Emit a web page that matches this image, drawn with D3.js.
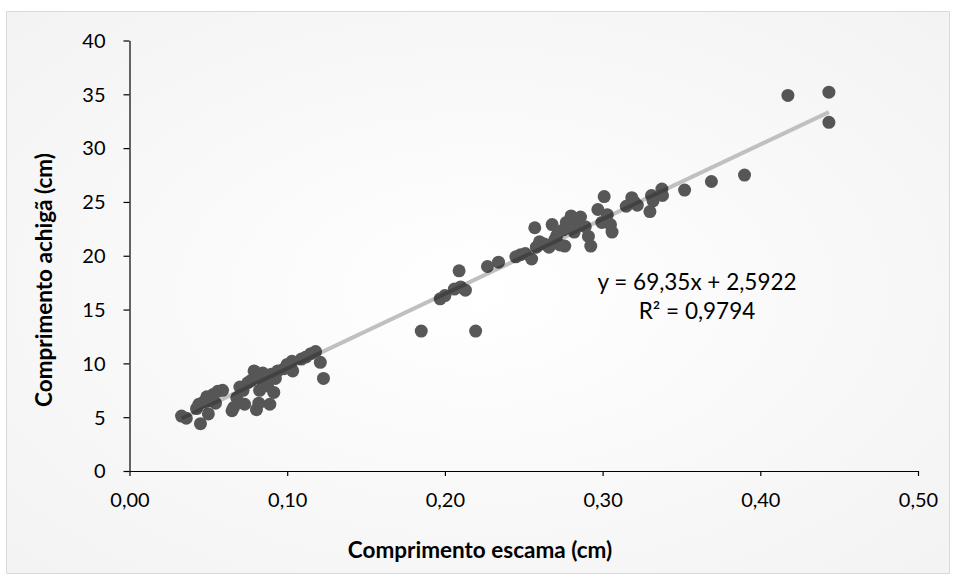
<!DOCTYPE html>
<html>
<head>
<meta charset="utf-8">
<script src="https://cdn.jsdelivr.net/npm/d3@7"></script>
<style>
  html, body { margin: 0; padding: 0; background: #ffffff; }
  svg { display: block; font-family: Lato, "Open Sans", sans-serif; }
</style>
</head>
<body>
<svg id="chart" width="956" height="580"></svg>
<script>
// Scale length (cm) vs. fish length (cm)
const escama = [
  0.033, 0.036, 0.045, 0.0425, 0.044, 0.047, 0.0495, 0.050, 0.051, 0.053,
  0.049, 0.056, 0.059, 0.0545, 0.065, 0.066, 0.068, 0.070, 0.072, 0.073,
  0.075, 0.077, 0.079, 0.080, 0.0805, 0.082, 0.0825, 0.084, 0.0845, 0.086,
  0.0875, 0.089, 0.090, 0.0915, 0.0925, 0.094, 0.098, 0.100, 0.103, 0.1035,
  0.109, 0.112, 0.115, 0.118, 0.121, 0.123,
  0.185, 0.2195, 0.197, 0.200, 0.209, 0.206, 0.210, 0.213, 0.227, 0.234,
  0.245, 0.248, 0.251, 0.255, 0.257, 0.258, 0.260, 0.263, 0.266, 0.268,
  0.2697, 0.271, 0.273, 0.275, 0.276, 0.277, 0.280, 0.282, 0.284, 0.286,
  0.289, 0.291, 0.2925, 0.297, 0.2995, 0.301, 0.303, 0.305, 0.306, 0.315,
  0.3185, 0.320, 0.322, 0.331, 0.332, 0.330, 0.3376, 0.338, 0.352, 0.369,
  0.390, 0.4175, 0.4435, 0.4435
];
const achiga = [
  5.1, 4.9, 4.4, 5.8, 6.2, 6.4, 6.5, 5.3, 6.7, 7.1,
  6.9, 7.4, 7.5, 6.3, 5.6, 5.9, 6.8, 7.8, 7.5, 6.2,
  8.2, 8.4, 9.3, 8.9, 5.7, 6.3, 7.5, 8.4, 9.1, 8.7,
  7.9, 6.2, 9.0, 7.3, 8.6, 9.3, 9.5, 9.9, 10.2, 9.3,
  10.4, 10.6, 10.9, 11.1, 10.1, 8.6,
  13.0, 13.0, 16.0, 16.3, 18.6, 16.9, 17.1, 16.8, 19.0, 19.4,
  19.9, 20.1, 20.2, 19.7, 22.6, 20.8, 21.3, 21.1, 20.8, 22.9,
  21.5, 21.9, 21.0, 22.4, 20.9, 23.1, 23.7, 22.2, 23.0, 23.6,
  22.7, 21.8, 20.9, 24.3, 23.1, 25.5, 23.8, 22.9, 22.2, 24.6,
  25.4, 25.0, 24.7, 25.6, 25.1, 24.1, 26.2, 25.6, 26.1, 26.9,
  27.5, 34.9, 35.2, 32.4
];

// Linear trendline y = a·x + b
const trendCoef = [69.35, 2.5922];
const trendLabels = ["y = 69,35x + 2,5922", "R² = 0,9794"];

const xTicks = [0, 0.1, 0.2, 0.3, 0.4, 0.5];
const xTickLabels = ["0,00", "0,10", "0,20", "0,30", "0,40", "0,50"];
const yTicks = [0, 5, 10, 15, 20, 25, 30, 35, 40];

const xTitle = "Comprimento escama (cm)";
const yTitle = "Comprimento achigã (cm)";

const svg = d3.select("#chart");

// Chart area background: soft radial fill with a thin grey frame
const defs = svg.append("defs");
const grad = defs.append("radialGradient")
  .attr("id", "bg").attr("cx", "50%").attr("cy", "50%").attr("r", "75%");
grad.append("stop").attr("offset", "0%").attr("stop-color", "#ffffff");
grad.append("stop").attr("offset", "100%").attr("stop-color", "#f2f2f2");

svg.append("rect")
  .attr("x", 6.5).attr("y", 11.5)
  .attr("width", 943).attr("height", 562)
  .attr("fill", "url(#bg)")
  .attr("stroke", "#d9d9d9").attr("stroke-width", 1);

const x = d3.scaleLinear().domain([0, 0.5]).range([129.5, 918]);
const y = d3.scaleLinear().domain([0, 40]).range([471, 40.5]);

// Axes
const xAxis = d3.axisBottom(x)
  .tickValues(xTicks)
  .tickFormat((d, i) => xTickLabels[i])
  .tickSizeInner(5).tickSizeOuter(0).tickPadding(17);
const yAxis = d3.axisLeft(y)
  .tickValues(yTicks)
  .tickFormat(d3.format("d"))
  .tickSizeInner(6).tickSizeOuter(0).tickPadding(18);

const gx = svg.append("g").attr("transform", `translate(0,${y(0)})`).call(xAxis);
const gy = svg.append("g").attr("transform", `translate(${x(0)},0)`).call(yAxis);

[gx, gy].forEach(g => {
  g.select(".domain").attr("stroke", "#000").attr("stroke-width", 1.2);
  g.selectAll(".tick line").attr("stroke", "#000").attr("stroke-width", 1.2);
  g.selectAll(".tick text")
    .attr("fill", "#000")
    .style("font-size", "20px")
    .style("font-family", "Lato, 'Open Sans', sans-serif");
});
gy.selectAll(".tick text").attr("dy", "0.34em");

// Trendline over the data range
const xMin = d3.min(escama), xMax = d3.max(escama);
svg.append("line")
  .attr("x1", x(xMin)).attr("y1", y(trendCoef[0] * xMin + trendCoef[1]))
  .attr("x2", x(xMax)).attr("y2", y(trendCoef[0] * xMax + trendCoef[1]))
  .attr("stroke", "#c0c0c0").attr("stroke-width", 4);

// Markers, drawn as one translucent layer
const pts = escama.map((v, i) => ({ x: v, y: achiga[i] }));
svg.append("g").attr("opacity", 0.65)
  .selectAll("circle").data(pts).join("circle")
  .attr("cx", d => x(d.x)).attr("cy", d => y(d.y))
  .attr("r", 6.5).attr("fill", "#000");

// Trendline equation
svg.append("g").selectAll("text").data(trendLabels).join("text")
  .attr("x", 697).attr("y", (d, i) => 290 + i * 29)
  .attr("text-anchor", "middle")
  .style("font-size", "22.5px")
  .attr("fill", "#000")
  .text(d => d);

// Axis titles
svg.append("text")
  .attr("x", 480).attr("y", 558)
  .attr("text-anchor", "middle")
  .style("font-size", "22.5px").style("font-weight", "bold")
  .text(xTitle);

svg.append("text")
  .attr("transform", "translate(52,280) rotate(-90)")
  .attr("text-anchor", "middle")
  .style("font-size", "22.5px").style("font-weight", "bold")
  .text(yTitle);
</script>
</body>
</html>
